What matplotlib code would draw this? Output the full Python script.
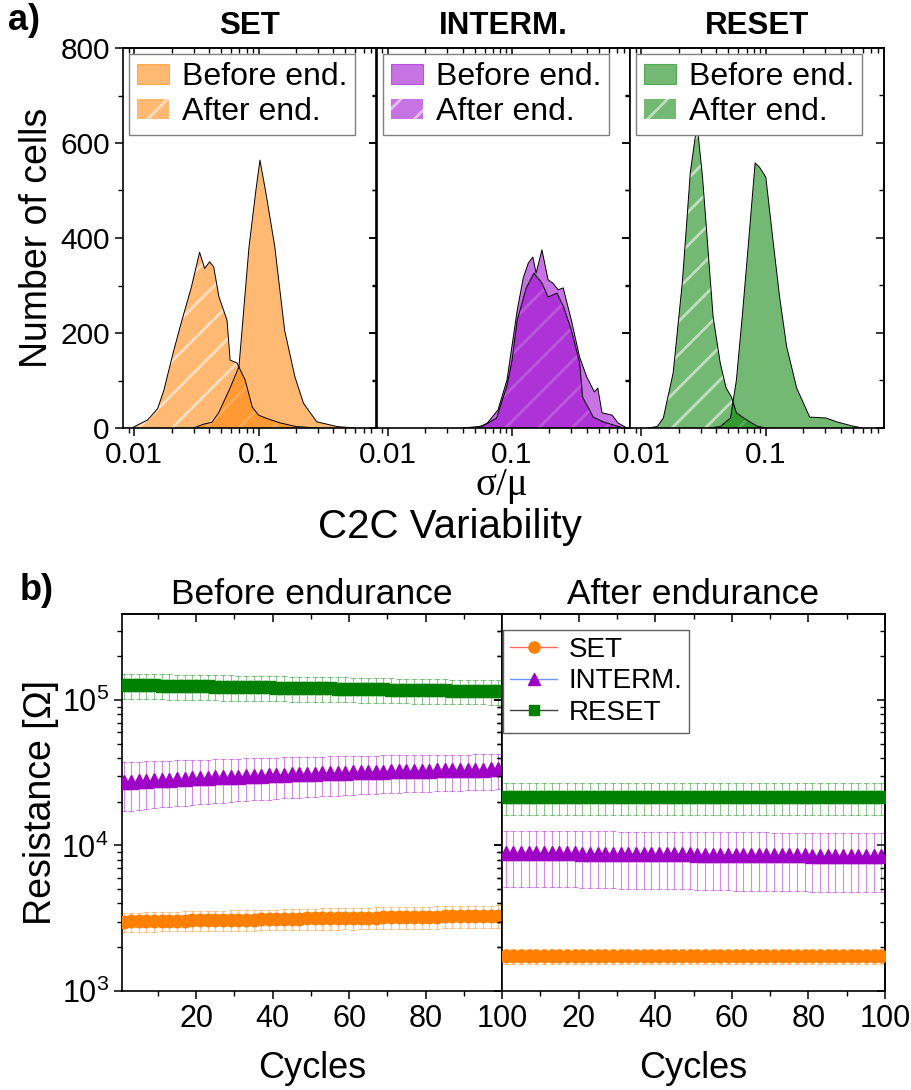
import matplotlib
matplotlib.use('Agg')
import matplotlib.pyplot as plt
from matplotlib.patches import Patch
from matplotlib.lines import Line2D
from matplotlib.ticker import FixedLocator, FixedFormatter, LogLocator, NullFormatter, MultipleLocator

plt.rcParams['font.family'] = ['Liberation Sans', 'DejaVu Sans']
plt.rcParams['mathtext.fontset'] = 'custom'
plt.rcParams['mathtext.rm'] = 'Liberation Sans'
plt.rcParams['hatch.linewidth'] = 2.0
plt.rcParams['axes.linewidth'] = 1.2

# ---- a) C2C variability histograms (sigma/mu, number of cells) ----
set_before_x = [0.030, 0.036, 0.042, 0.0477, 0.058, 0.0695, 0.0838, 0.0952, 0.1026, 0.1147,
                0.135, 0.162, 0.196, 0.23, 0.294, 0.43, 0.60]
set_before_n = [0, 8, 12, 32, 80, 129, 382, 501, 564, 494, 382, 206, 108, 52, 13, 3, 0]
set_after_x = [0.0095, 0.0128, 0.0154, 0.0173, 0.0205, 0.0238, 0.0288, 0.0335, 0.0368, 0.0404,
               0.0435, 0.048, 0.0557, 0.059, 0.067, 0.078, 0.089, 0.1, 0.114, 0.148, 0.2, 0.3]
set_after_n = [0, 17, 41, 80, 158, 221, 297, 370, 336, 350, 339, 276, 227, 143, 137, 101, 44,
               27, 21, 11, 3, 0]

interm_before_x = [0.052, 0.063, 0.077, 0.091, 0.110, 0.123, 0.135, 0.147, 0.156, 0.174, 0.195,
                   0.213, 0.235, 0.258, 0.30, 0.35, 0.40, 0.46, 0.49, 0.53, 0.64, 0.71, 0.84]
interm_before_n = [0, 10, 38, 101, 248, 316, 347, 360, 326, 375, 312, 305, 291, 295, 227, 149,
                   107, 76, 84, 32, 27, 11, 0]
interm_after_x = [0.040, 0.058, 0.075, 0.091, 0.10, 0.11, 0.13, 0.15, 0.174, 0.195, 0.23, 0.26,
                  0.30, 0.35, 0.37, 0.45, 0.54, 0.70, 0.80]
interm_after_n = [0, 4, 21, 89, 143, 227, 295, 326, 305, 276, 284, 255, 206, 137, 65, 23, 13, 4, 0]

reset_before_x = [0.035, 0.043, 0.052, 0.058, 0.065, 0.074, 0.082, 0.089, 0.1, 0.114, 0.129,
                  0.147, 0.177, 0.225, 0.305, 0.37, 0.5, 0.6]
reset_before_n = [0, 3, 21, 101, 242, 417, 558, 549, 528, 396, 276, 171, 84, 23, 21, 13, 4, 0]
reset_after_x = [0.0112, 0.0134, 0.015, 0.018, 0.0213, 0.0233, 0.0247, 0.028, 0.031, 0.034,
                 0.0377, 0.043, 0.048, 0.053, 0.058, 0.07, 0.085, 0.1]
reset_after_n = [0, 3, 21, 116, 305, 444, 537, 640, 528, 389, 234, 137, 84, 65, 32, 17, 4, 0]

hist_titles = ['SET', 'INTERM.', 'RESET']
hist_colors = ['#FF8000', '#9900CC', '#008000']

# ---- b) resistance vs cycles (mean and std, every second cycle) ----
cycles = list(range(1, 100, 2))

set_before_mean = [3000, 3010, 3010, 3020, 3020, 3030, 3040, 3040, 3050, 3060,
                   3060, 3070, 3070, 3080, 3090, 3090, 3100, 3100, 3110, 3120,
                   3120, 3130, 3130, 3140, 3150, 3150, 3160, 3170, 3170, 3180,
                   3180, 3190, 3200, 3200, 3210, 3210, 3220, 3230, 3230, 3240,
                   3240, 3250, 3260, 3260, 3270, 3280, 3280, 3290, 3290, 3300]
set_before_std = [450, 450, 450, 460, 460, 460, 470, 470, 470, 470,
                  480, 480, 480, 490, 490, 490, 500, 500, 500, 500,
                  510, 510, 510, 520, 520, 520, 530, 530, 530, 530,
                  540, 540, 540, 550, 550, 550, 560, 560, 560, 560,
                  560, 570, 570, 570, 570, 570, 570, 570, 570, 570]
interm_before_mean = [27200, 27400, 27600, 27800, 28000, 28150, 28350, 28550, 28700, 28900,
                      29050, 29200, 29350, 29500, 29650, 29800, 29950, 30100, 30250, 30400,
                      30550, 30700, 30800, 30950, 31050, 31200, 31300, 31450, 31550, 31700,
                      31800, 31900, 32000, 32100, 32200, 32300, 32400, 32450, 32550, 32650,
                      32700, 32800, 32850, 32950, 33000, 33100, 33150, 33250, 33300, 33400]
interm_before_std = [10000, 10000, 10000, 10000, 10000, 9900, 9900, 9900, 9900, 9900,
                     9800, 9800, 9800, 9800, 9800, 9700, 9700, 9700, 9700, 9700,
                     9600, 9600, 9600, 9600, 9600, 9500, 9500, 9500, 9500, 9500,
                     9400, 9400, 9400, 9400, 9400, 9300, 9300, 9300, 9300, 9300,
                     9200, 9200, 9200, 9200, 9200, 9100, 9100, 9100, 9100, 9100]
reset_before_mean = [126800, 126500, 126300, 126000, 125800, 125500, 125300, 125000, 124800, 124500,
                     124300, 124000, 123800, 123500, 123300, 123000, 122800, 122500, 122300, 122000,
                     121800, 121500, 121300, 121000, 120800, 120500, 120300, 120000, 119800, 119500,
                     119300, 119000, 118800, 118500, 118300, 118000, 117800, 117500, 117300, 117000,
                     116800, 116500, 116300, 116000, 115800, 115500, 115300, 115200, 115100, 115000]
reset_before_std = [25000, 25000, 25000, 25000, 25000, 24700, 24700, 24700, 24700, 24700,
                    24300, 24300, 24300, 24300, 24300, 24000, 24000, 24000, 24000, 24000,
                    23700, 23700, 23700, 23700, 23700, 23300, 23300, 23300, 23300, 23300,
                    23000, 23000, 23000, 23000, 23000, 22700, 22700, 22700, 22700, 22700,
                    22300, 22300, 22300, 22300, 22300, 22000, 22000, 22000, 22000, 22000]

set_after_mean = [1740, 1740, 1740, 1740, 1740, 1740, 1740, 1740, 1740, 1740,
                  1740, 1740, 1740, 1740, 1740, 1740, 1740, 1740, 1740, 1740,
                  1740, 1740, 1740, 1740, 1740, 1740, 1740, 1740, 1740, 1740,
                  1740, 1740, 1740, 1740, 1740, 1740, 1740, 1740, 1740, 1740,
                  1740, 1740, 1740, 1740, 1740, 1740, 1740, 1740, 1740, 1740]
set_after_std = [210, 210, 210, 210, 210, 210, 210, 210, 210, 210,
                 210, 210, 210, 210, 210, 210, 210, 210, 210, 210,
                 210, 210, 210, 210, 210, 210, 210, 210, 210, 210,
                 210, 210, 210, 210, 210, 210, 210, 210, 210, 210,
                 210, 210, 210, 210, 210, 210, 210, 210, 210, 210]
interm_after_mean = [8900, 8900, 8900, 8900, 8900, 8850, 8850, 8850, 8850, 8850,
                     8800, 8800, 8800, 8800, 8800, 8750, 8750, 8750, 8750, 8750,
                     8700, 8700, 8700, 8700, 8700, 8650, 8650, 8650, 8650, 8650,
                     8600, 8600, 8600, 8600, 8600, 8550, 8550, 8550, 8550, 8550,
                     8500, 8500, 8500, 8500, 8500, 8500, 8500, 8500, 8500, 8500]
interm_after_std = [3700, 3700, 3700, 3700, 3700, 3700, 3700, 3700, 3700, 3700,
                    3700, 3700, 3700, 3700, 3700, 3700, 3700, 3700, 3700, 3700,
                    3700, 3700, 3700, 3700, 3700, 3700, 3700, 3700, 3700, 3700,
                    3700, 3700, 3700, 3700, 3700, 3700, 3700, 3700, 3700, 3700,
                    3700, 3700, 3700, 3700, 3700, 3700, 3700, 3700, 3700, 3700]
reset_after_mean = [21400, 21400, 21400, 21400, 21400, 21400, 21400, 21400, 21400, 21400,
                    21400, 21400, 21400, 21400, 21400, 21400, 21400, 21400, 21400, 21400,
                    21400, 21400, 21400, 21400, 21400, 21400, 21400, 21400, 21400, 21400,
                    21400, 21400, 21400, 21400, 21400, 21400, 21400, 21400, 21400, 21400,
                    21400, 21400, 21400, 21400, 21400, 21400, 21400, 21400, 21400, 21400]
reset_after_std = [5300, 5300, 5300, 5300, 5300, 5300, 5300, 5300, 5300, 5300,
                   5300, 5300, 5300, 5300, 5300, 5300, 5300, 5300, 5300, 5300,
                   5300, 5300, 5300, 5300, 5300, 5300, 5300, 5300, 5300, 5300,
                   5300, 5300, 5300, 5300, 5300, 5300, 5300, 5300, 5300, 5300,
                   5300, 5300, 5300, 5300, 5300, 5300, 5300, 5300, 5300, 5300]

state_names = ['SET', 'INTERM.', 'RESET']
state_colors = ['#FF8000', '#9F00C5', '#008000']
state_lines = ['#FF6666', '#6699FF', '#404040']
state_markers = ['o', '^', 's']
state_ms = [9, 9.5, 8]

fig = plt.figure(figsize=(9.11, 10.9), dpi=100)
W, H = 911.0, 1090.0


def box(x0, y0, x1, y1):
    return [x0 / W, 1 - y1 / H, (x1 - x0) / W, (y1 - y0) / H]


def mirror_ticks(ax):
    ax.tick_params(which='both', direction='out', top=False, right=False)
    ax.tick_params(which='major', length=6, width=1.1)
    ax.tick_params(which='minor', length=3.5, width=1.0)
    tx = ax.secondary_xaxis('top')
    tx.tick_params(which='both', direction='in', labeltop=False)
    tx.tick_params(which='major', length=6, width=1.1)
    tx.tick_params(which='minor', length=3.5, width=1.0)
    ty = ax.secondary_yaxis('right')
    ty.tick_params(which='both', direction='in', labelright=False)
    ty.tick_params(which='major', length=6, width=1.1)
    ty.tick_params(which='minor', length=3.5, width=1.0)
    return tx, ty


hist_data = [(set_before_x, set_before_n, set_after_x, set_after_n),
             (interm_before_x, interm_before_n, interm_after_x, interm_after_n),
             (reset_before_x, reset_before_n, reset_after_x, reset_after_n)]
edges = [123, 376.5, 630, 884]
for i in range(3):
    ax = fig.add_axes(box(edges[i], 48, edges[i + 1], 428))
    bx, bn, axx, an = hist_data[i]
    c = hist_colors[i]
    ax.fill_between(axx, 0, an, facecolor=c, alpha=0.55, hatch='/', edgecolor='white', linewidth=0)
    ax.plot(axx, an, color='black', lw=0.7)
    ax.fill_between(bx, 0, bn, facecolor=c, alpha=0.55, linewidth=0)
    ax.plot(bx, bn, color='black', lw=0.7)
    ax.set_xscale('log')
    ax.set_xlim(0.0081, 0.89)
    ax.set_ylim(0, 800)
    ax.xaxis.set_major_locator(FixedLocator([0.01, 0.1]))
    ax.xaxis.set_major_formatter(FixedFormatter(['0.01', '0.1']))
    ax.xaxis.set_minor_locator(LogLocator(base=10, subs=[2, 3, 4, 5, 6, 7, 8, 9]))
    ax.xaxis.set_minor_formatter(NullFormatter())
    ax.yaxis.set_major_locator(MultipleLocator(200))
    ax.yaxis.set_minor_locator(MultipleLocator(100))
    tx, ty = mirror_ticks(ax)
    tx.xaxis.set_major_locator(FixedLocator([0.01, 0.1]))
    tx.xaxis.set_minor_locator(LogLocator(base=10, subs=[2, 3, 4, 5, 6, 7, 8, 9]))
    tx.xaxis.set_minor_formatter(NullFormatter())
    ty.yaxis.set_major_locator(MultipleLocator(200))
    ty.yaxis.set_minor_locator(MultipleLocator(100))
    ax.tick_params(labelsize=21.5)
    if i > 0:
        ax.tick_params(labelleft=False)
    else:
        ax.set_ylabel('Number of cells', fontsize=27, labelpad=4)
    ax.set_title(hist_titles[i], fontsize=22.5, fontweight='bold', pad=10)
    handles = [Patch(facecolor=c, alpha=0.55, edgecolor=c, linewidth=0.8, label='Before end.'),
               Patch(facecolor=c, alpha=0.55, hatch='/', edgecolor='white', linewidth=0,
                     label='After end.')]
    leg = ax.legend(handles=handles, loc='upper left', fontsize=23, frameon=True, fancybox=False,
                    framealpha=1, edgecolor='#808080', borderaxespad=0.2, handlelength=1.0,
                    handleheight=0.6, handletextpad=0.4, labelspacing=0.15, borderpad=0.25)
    leg.get_frame().set_linewidth(1.0)

fig.text(502 / W, 1 - 485 / H, 'σ/μ', ha='center', va='center', fontsize=28,
         family=['Liberation Serif', 'DejaVu Serif'])
fig.text(450 / W, 1 - 527 / H, 'C2C Variability', ha='center', va='center', fontsize=29)
fig.text(8 / W, 1 - 21 / H, 'a)', ha='left', va='center', fontsize=26, fontweight='bold')
fig.text(20 / W, 1 - 591 / H, 'b)', ha='left', va='center', fontsize=26, fontweight='bold')

# ---- bottom panels ----
before_data = [(set_before_mean, set_before_std), (interm_before_mean, interm_before_std),
               (reset_before_mean, reset_before_std)]
after_data = [(set_after_mean, set_after_std), (interm_after_mean, interm_after_std),
              (reset_after_mean, reset_after_std)]
panels = [(122, 502, 'Before endurance', before_data, (0.6, 100)),
          (502, 885, 'After endurance', after_data, (0, 100))]
for j, (x0, x1, title, data, xl) in enumerate(panels):
    ax = fig.add_axes(box(x0, 614, x1, 991))
    for k in range(3):
        mean, std = data[k]
        ax.errorbar(cycles, mean, yerr=std, fmt='none', ecolor=state_colors[k], elinewidth=0.8,
                    capsize=2.5, capthick=0.8, alpha=0.45, zorder=2)
    for k in range(3):
        mean, std = data[k]
        ax.plot(cycles, mean, '-', color=state_lines[k], lw=1, marker=state_markers[k],
                ms=state_ms[k], mfc=state_colors[k], mec=state_colors[k], zorder=3)
    ax.set_yscale('log')
    ax.set_ylim(1e3, 3.9e5)
    ax.set_xlim(*xl)
    ax.xaxis.set_major_locator(FixedLocator([20, 40, 60, 80, 100]))
    ax.xaxis.set_minor_locator(FixedLocator([10, 30, 50, 70, 90]))
    ax.yaxis.set_major_locator(LogLocator(base=10, numticks=10))
    ax.yaxis.set_minor_locator(LogLocator(base=10, subs=[2, 3, 4, 5, 6, 7, 8, 9], numticks=10))
    ax.yaxis.set_minor_formatter(NullFormatter())
    tx, ty = mirror_ticks(ax)
    tx.xaxis.set_major_locator(FixedLocator([20, 40, 60, 80, 100]))
    tx.xaxis.set_minor_locator(FixedLocator([10, 30, 50, 70, 90]))
    ty.yaxis.set_major_locator(LogLocator(base=10, numticks=10))
    ty.yaxis.set_minor_locator(LogLocator(base=10, subs=[2, 3, 4, 5, 6, 7, 8, 9], numticks=10))
    ty.yaxis.set_minor_formatter(NullFormatter())
    ax.tick_params(labelsize=22)
    ax.set_xlabel('Cycles', fontsize=26, labelpad=12)
    ax.set_title(title, fontsize=25.5, pad=7)
    if j == 0:
        ax.set_ylabel('Resistance [Ω]', fontsize=27, labelpad=2)
    else:
        ax.tick_params(labelleft=False)
        handles = [Line2D([], [], color=state_lines[k], lw=1, marker=state_markers[k],
                          ms=state_ms[k] - 1, mfc=state_colors[k], mec=state_colors[k],
                          label=state_names[k]) for k in range(3)]
        leg = ax.legend(handles=handles, loc='upper left', bbox_to_anchor=(0.003, 0.958),
                        borderaxespad=0, fontsize=20, frameon=True, fancybox=False, framealpha=1,
                        edgecolor='#606060', handlelength=1.7, handletextpad=0.4,
                        labelspacing=0.2, borderpad=0.25)
        leg.get_frame().set_linewidth(1.0)

fig.savefig('out.png', dpi=100)
